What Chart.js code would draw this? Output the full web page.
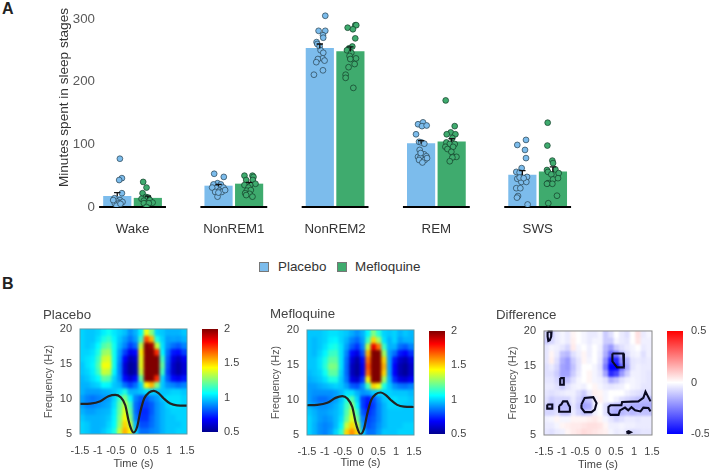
<!DOCTYPE html>
<html>
<head>
<meta charset="utf-8">
<title>Sleep stages and spindle power</title>
<script src="https://cdn.jsdelivr.net/npm/chart.js@4"></script>
<style>
  body { margin: 0; background: #fff; width: 709px; height: 474px; overflow: hidden; position: relative; font-family: "Liberation Sans", Arial, sans-serif; }
  canvas { position: absolute; }
  .letter { position: absolute; left: 2px; font-weight: bold; font-size: 16px; line-height: 16px; color: #222; }
  .key { position: absolute; top: 258px; font-size: 13.4px; line-height: 18px; color: #333; }
  .swatch { position: absolute; top: 262px; width: 8px; height: 8px; border: 0.7px solid #777; }
  .cells { position: absolute; overflow: hidden; }
</style>
</head>
<body>
<div class="letter" style="top:1px">A</div>
<div class="letter" style="top:276px">B</div>
<div class="swatch" style="left:259px;background:#7cbcec"></div>
<div class="key" style="left:278px">Placebo</div>
<div class="swatch" style="left:337px;background:#3fab6e"></div>
<div class="key" style="left:355px">Mefloquine</div>

<script>
// Panel A: minutes per sleep stage
const categories = ['Wake', 'NonREM1', 'NonREM2', 'REM', 'SWS'];
const placeboMeans = [17, 33.5, 253, 101, 51];
const mefloquineMeans = [14, 36.7, 248, 104, 56];
const placeboSem = [6, 2.5, 7, 5, 7];
const mefloquineSem = [3.5, 2.5, 7.5, 5, 8];

// Single subjects, one list per stage
const placeboMinutes = [
  [77, 46, 43, 22, 14, 11, 8.5, 6, 8, 6, 2, 5, 11],
  [53, 48, 38, 36, 36, 30, 31, 31, 26, 24, 24, 27, 16.5, 23],
  [305, 281, 281, 274, 270, 263, 260, 256, 250, 246, 237, 236, 233.5, 231, 218, 211],
  [132, 135, 129, 130, 116, 104, 103, 101, 91, 80, 84, 81, 79, 75, 75, 71, 86, 78],
  [107, 99, 91, 78, 62, 56, 55, 48, 45, 40, 40, 47, 46, 30, 30, 17.5, 15, 4]
];
const placeboJitter = [
  [-.125, -.105, -.132, -.105, -.178, -.125, -.152, -.175, -.099, -.132, -.158, -.119, -.191],
  [-.194, -.099, -.161, -.201, -.128, -.175, -.102, -.214, -.142, -.184, -.119, -.086, -.161, -.152],
  [-.097, -.163, -.097, -.12, -.117, -.183, -.176, -.153, -.143, -.117, -.124, -.17, -.104, -.186, -.12, -.209],
  [-.181, -.132, -.142, -.096, -.201, -.171, -.148, -.119, -.165, -.181, -.122, -.099, -.158, -.171, -.115, -.138, -.155, -.092],
  [-.115, -.201, -.125, -.115, -.158, -.211, -.178, -.105, -.201, -.161, -.112, -.178, -.138, -.211, -.171, -.194, -.204, -.099]
];
const mefloquineMinutes = [
  [40, 31, 22, 16, 13, 15, 10, 11, 7, 6, 6, 6, 0],
  [50, 50, 48, 43, 43, 37, 35, 35, 31, 26, 27, 22, 21, 16.5, 19],
  [286, 290, 290, 283.5, 269, 256, 253, 250, 246, 241, 237, 236, 228, 223, 211, 206, 190],
  [170, 129, 119, 116, 116, 110, 103, 100.5, 100.5, 96, 96, 92.5, 88, 80, 80, 79, 73],
  [134.5, 98, 74, 70, 59, 60, 56, 54, 52, 44, 46, 38, 37, 37, 18, 6]
];
const mefloquineJitter = [
  [.105, .138, .099, .132, .089, .155, .112, .171, .198, .138, .112, .161, .138],
  [.105, .184, .194, .122, .188, .214, .105, .161, .145, .128, .168, .112, .155, .184, .122],
  [.124, .199, .209, .176, .199, .17, .137, .117, .16, .143, .206, .15, .193, .133, .104, .104, .18],
  [.092, .181, .142, .102, .188, .158, .099, .132, .181, .089, .165, .109, .148, .165, .198, .158, .132],
  [.099, .096, .145, .152, .092, .175, .102, .208, .135, .152, .201, .102, .145, .092, .191, .105]
];
const minuteTicks = [0, 100, 200, 300];

// Panel B: time-frequency maps, rows run from 20 Hz down to 5 Hz
const cellTimes = [-1.425, -1.275, -1.125, -.975, -.825, -.675, -.525, -.375, -.225, -.075, .075, .225, .375, .525, .675, .825, .975, 1.125, 1.275, 1.425];
const placeboPower = [
  [1.0, .98, .98, 1.0, 1.04, 1.08, 1.03, 1.0, .97, .9, .95, 1.05, 1.42, 1.25, 1.0, .98, .95, .95, .95, .98],
  [1.0, .98, .98, 1.02, 1.1, 1.14, 1.05, .98, .92, .86, .92, 1.15, 1.7, 1.55, 1.1, 1.0, .92, .93, .92, .95],
  [1.0, .98, 1.0, 1.06, 1.18, 1.22, 1.08, .96, .88, .78, .84, 1.35, 2.0, 1.95, 1.35, 1.02, .9, .85, .82, .88],
  [1.0, 1.0, 1.02, 1.1, 1.28, 1.3, 1.08, .92, .78, .66, .7, 1.45, 2.3, 2.3, 1.75, 1.05, .85, .72, .7, .78],
  [1.0, 1.02, 1.04, 1.15, 1.36, 1.38, 1.08, .9, .68, .56, .6, 1.4, 2.3, 2.3, 2.0, 1.15, .82, .64, .58, .66],
  [.98, 1.02, 1.05, 1.18, 1.42, 1.42, 1.08, .88, .62, .52, .56, 1.4, 2.3, 2.3, 2.1, 1.2, .8, .6, .54, .62],
  [.98, 1.0, 1.04, 1.15, 1.36, 1.34, 1.05, .88, .62, .52, .56, 1.35, 2.3, 2.3, 2.05, 1.15, .78, .6, .54, .62],
  [.96, .98, 1.02, 1.06, 1.2, 1.18, 1.0, .9, .7, .62, .7, 1.2, 2.1, 2.2, 1.75, 1.0, .82, .7, .66, .72],
  [.95, .95, .98, 1.0, 1.06, 1.05, .98, .95, .85, .78, .85, 1.0, 1.45, 1.55, 1.25, .98, .9, .88, .85, .88],
  [.95, .92, .92, .92, .94, .95, .98, 1.02, 1.1, .95, .95, .98, 1.02, 1.0, .98, .98, .98, 1.0, 1.0, .98],
  [.92, .88, .86, .88, .9, .92, 1.0, 1.15, 1.25, 1.05, .88, .82, .82, .88, .92, .98, 1.02, 1.02, 1.02, 1.0],
  [.92, .88, .88, .9, .92, .94, 1.02, 1.2, 1.35, 1.15, .85, .78, .78, .82, .9, .95, 1.0, 1.02, 1.02, 1.0],
  [.95, .92, .92, .94, .95, .96, 1.04, 1.22, 1.4, 1.2, .85, .75, .75, .82, .9, .95, .98, 1.0, 1.0, 1.0],
  [.98, .95, .95, .95, .96, .98, 1.05, 1.25, 1.45, 1.25, .88, .76, .76, .84, .9, .95, .98, .98, 1.0, 1.0],
  [1.0, .98, .95, .95, .96, 1.0, 1.06, 1.28, 1.5, 1.35, .95, .8, .8, .85, .9, .95, .98, .98, .98, 1.0],
  [1.0, .98, .95, .95, .98, 1.02, 1.1, 1.35, 1.55, 1.45, 1.0, .85, .85, .88, .9, .95, .98, .98, 1.0, 1.0]
];
const mefloquinePower = [
  [.98, .98, .98, 1.0, 1.02, 1.02, 1.0, .98, .94, .9, .95, 1.05, 1.25, 1.12, 1.0, .98, 1.0, .95, .98, .96],
  [.98, .96, .98, 1.0, 1.04, 1.05, 1.0, .95, .88, .84, .92, 1.15, 1.5, 1.3, 1.02, .95, 1.0, .92, .95, .95],
  [.98, .96, .98, 1.02, 1.08, 1.1, 1.02, .92, .82, .76, .88, 1.35, 1.85, 1.65, 1.15, .95, .95, .85, .82, .88],
  [.98, .96, 1.0, 1.05, 1.14, 1.15, 1.02, .88, .7, .64, .8, 1.55, 2.2, 2.05, 1.3, .92, .85, .72, .68, .76],
  [.98, .98, 1.02, 1.1, 1.2, 1.2, 1.02, .85, .62, .54, .7, 1.65, 2.3, 2.3, 1.5, .92, .72, .6, .56, .64],
  [.98, .98, 1.02, 1.12, 1.25, 1.24, 1.02, .84, .58, .52, .66, 1.7, 2.3, 2.3, 1.55, .92, .68, .56, .52, .6],
  [.96, .98, 1.0, 1.08, 1.2, 1.2, 1.0, .84, .58, .52, .66, 1.65, 2.3, 2.3, 1.5, .92, .68, .56, .52, .6],
  [.94, .96, .98, 1.02, 1.1, 1.1, .98, .86, .64, .6, .76, 1.45, 2.2, 2.0, 1.3, .95, .75, .64, .62, .68],
  [.92, .92, .94, .96, .98, 1.0, .98, .92, .82, .8, .9, 1.15, 1.5, 1.42, 1.1, .98, .9, .86, .85, .88],
  [.92, .9, .9, .9, .9, .92, .96, 1.02, 1.02, .95, .9, .92, .98, 1.0, 1.0, 1.0, .98, .98, .98, .96],
  [.92, .88, .85, .85, .88, .92, .98, 1.1, 1.18, 1.0, .78, .72, .8, .9, .98, 1.0, 1.02, 1.0, 1.0, .98],
  [.95, .92, .9, .9, .92, .95, 1.0, 1.15, 1.28, 1.05, .78, .7, .78, .88, .95, 1.0, 1.0, 1.0, .98, .98],
  [.98, .95, .92, .92, .94, .96, 1.0, 1.18, 1.35, 1.15, .82, .74, .8, .88, .95, .98, .98, .98, .98, .98],
  [1.0, .96, .92, .9, .92, .96, 1.02, 1.22, 1.4, 1.22, .88, .78, .82, .88, .95, .98, .98, .98, .98, .98],
  [1.0, .95, .9, .88, .9, .96, 1.05, 1.35, 1.5, 1.35, .92, .8, .84, .9, .95, .98, .98, .98, 1.0, 1.0],
  [1.0, .95, .9, .88, .92, 1.0, 1.12, 1.5, 1.6, 1.5, 1.0, .85, .86, .92, .98, .98, .98, 1.0, 1.0, 1.0]
];
const differencePower = [
  [-.08, -.1, -.04, -.02, -.04, .02, 0, -.02, -.04, -.04, -.02, -.1, -.06, 0, -.04, -.06, 0, .06, -.04, -.02],
  [-.1, -.08, -.04, -.02, -.04, .03, 0, -.02, -.04, -.02, -.02, -.1, -.1, -.02, -.04, -.05, 0, .05, -.03, -.03],
  [-.05, -.02, -.03, -.05, -.08, .04, -.02, 0, -.03, 0, -.03, -.14, -.2, -.1, -.06, -.04, -.02, 0, -.04, -.03],
  [-.05, .02, -.04, -.12, -.14, -.06, -.03, .02, -.03, 0, -.04, -.16, -.3, -.26, -.14, -.07, -.03, -.02, -.06, -.03],
  [-.05, .03, -.06, -.16, -.2, -.1, -.05, .02, -.02, 0, -.05, -.22, -.44, -.42, -.22, -.14, -.05, -.04, -.05, -.04],
  [-.06, -.04, -.08, -.18, -.2, -.12, -.05, 0, 0, -.02, -.06, -.26, -.5, -.52, -.3, -.16, -.05, -.03, -.04, -.04],
  [-.06, -.06, -.1, -.18, -.18, -.1, -.04, 0, .02, -.02, -.05, -.18, -.42, -.36, -.2, -.1, -.03, -.03, -.04, -.05],
  [-.05, -.05, -.08, -.14, -.12, -.06, -.02, 0, .02, -.02, -.03, -.06, -.16, -.12, -.06, -.03, -.02, -.03, -.04, -.05],
  [-.04, -.04, -.06, -.1, -.06, -.03, -.02, -.03, 0, .02, -.02, -.04, -.05, -.04, -.03, 0, -.02, -.03, -.05, -.05],
  [-.05, -.06, -.05, -.04, -.03, -.03, -.06, -.1, -.04, .03, .02, -.02, 0, 0, 0, -.03, -.05, -.06, -.08, -.06],
  [-.06, -.1, -.08, -.08, -.08, -.04, -.08, -.14, -.12, -.03, .03, -.02, 0, -.03, -.06, -.08, -.1, -.12, -.14, -.14],
  [-.08, -.14, -.08, -.14, -.14, -.05, -.1, -.18, -.16, -.04, 0, -.06, -.12, -.14, -.14, -.14, -.16, -.16, -.16, -.16],
  [-.08, -.08, -.06, -.12, -.12, -.04, -.08, -.12, -.1, -.03, 0, -.06, -.14, -.16, -.14, -.12, -.14, -.12, -.12, -.12],
  [-.03, -.02, .02, -.02, -.02, .02, .02, .02, .03, .04, .02, -.02, -.05, -.08, -.06, -.04, -.04, -.05, -.04, -.04],
  [-.04, -.04, -.02, .02, .03, .04, .04, .05, .06, .06, .05, .02, -.03, -.03, -.02, -.03, -.03, -.04, -.04, -.04],
  [-.05, -.06, -.04, -.03, .02, .04, .05, .07, .06, .05, .04, .03, -.02, -.04, -.03, -.05, -.07, -.06, -.05, -.05]
];

// Average slow wave drawn over the two power maps
const traceTimes = [-1.5, -1.21, -.93, -.7, -.51, -.37, -.23, -.14, -.07, 0, .1, .19, .3, .43, .57, .71, .85, 1.03, 1.22, 1.5];
const placeboTrace = [9.3, 9.35, 9.68, 10.4, 10.6, 10.3, 9.1, 6.96, 5.76, 5.2, 6.0, 8.15, 10.07, 10.9, 11.15, 10.8, 10.07, 9.35, 9.1, 9.06];
const mefloquineTrace = [9.25, 9.3, 9.6, 10.3, 10.55, 10.2, 9.0, 6.9, 5.7, 5.1, 5.9, 8.05, 10.0, 10.85, 11.07, 10.7, 10.0, 9.3, 9.05, 9.0];

// Significant clusters in the difference map, [time, frequency]
const clusterOutlines = [
  [[-1.4, 19.9], [-1.29, 19.9], [-1.3, 19.2], [-1.34, 18.65], [-1.38, 18.55], [-1.4, 19.2], [-1.4, 19.9]],
  [[-1.05, 13.2], [-.95, 13.2], [-.95, 12.25], [-1.05, 12.25], [-1.05, 13.2]],
  [[-1.41, 9.4], [-1.27, 9.4], [-1.27, 8.8], [-1.41, 8.8], [-1.41, 9.4]],
  [[-1.08, 9.2], [-1.02, 9.4], [-.97, 9.85], [-.86, 9.85], [-.82, 9.4], [-.78, 9.05], [-.78, 8.35], [-1.06, 8.35], [-1.08, 8.75], [-1.08, 9.2]],
  [[-.46, 9.4], [-.37, 10.35], [-.13, 10.45], [-.04, 9.6], [-.09, 8.65], [-.18, 8.3], [-.37, 8.3], [-.46, 8.9], [-.46, 9.4]],
  [[.4, 16.75], [.7, 16.75], [.72, 14.75], [.53, 14.75], [.4, 15.6], [.4, 16.75]],
  [[1.46, 9.85], [1.32, 11.25], [1.26, 10.35], [1.12, 9.85], [.67, 9.75], [.65, 9.3], [.35, 9.3], [.29, 9.05], [.29, 8.25], [.35, 7.9], [.57, 7.9], [.61, 8.55], [.75, 8.95], [.84, 8.55], [.93, 9], [1.03, 8.55], [1.18, 8.4], [1.26, 8.95], [1.4, 8.9], [1.46, 8.4]],
  [[.79, 5.4], [.85, 5.55], [.91, 5.4], [.85, 5.25], [.79, 5.4]]
];
// Small ring left of the axis; out of x order so the line controller keeps it
const strayCluster = [[-1.68, 4.85], [-1.7, 4.85]];

const timeTicks = [-1.5, -1, -.5, 0, .5, 1, 1.5];
const frequencyTicks = [5, 10, 15, 20];
const powerTicks = [.5, 1, 1.5, 2];
const differenceTicks = [-.5, 0, .5];

const jetStops = [[0, '#00008f'], [.125, '#0000ff'], [.375, '#00ffff'], [.625, '#ffff00'], [.875, '#ff0000'], [1, '#800000']];
const redBlueStops = [[0, '#0000ff'], [.5, '#ffffff'], [1, '#ff0000']];

Chart.defaults.font.family = '"Liberation Sans", Arial, sans-serif';
Chart.defaults.animation = false;
Chart.defaults.events = [];
Chart.defaults.plugins.legend.display = false;
Chart.defaults.plugins.tooltip.enabled = false;

function addCanvas(left, top, width, height, parent) {
  const canvas = document.createElement('canvas');
  canvas.width = width;
  canvas.height = height;
  canvas.style.left = left + 'px';
  canvas.style.top = top + 'px';
  (parent || document.body).appendChild(canvas);
  return canvas;
}

function tickList(values) {
  return scale => { scale.ticks = values.map(value => ({ value })); };
}

// Fix an axis thickness and drop the room it would keep for its end labels
function fixedSize(side, size) {
  return scale => {
    scale[side] = size;
    scale.paddingLeft = scale.paddingRight = scale.paddingTop = scale.paddingBottom = 0;
  };
}

// mean + sem markers on top of the bars
const errorBars = {
  id: 'errorBars',
  afterDatasetsDraw(chart) {
    const { ctx, scales } = chart;
    ctx.save();
    ctx.strokeStyle = '#111';
    ctx.lineWidth = 1.3;
    [[0, placeboMeans, placeboSem], [1, mefloquineMeans, mefloquineSem]].forEach(([index, means, sem]) => {
      chart.getDatasetMeta(index).data.forEach((bar, i) => {
        const top = scales.y.getPixelForValue(means[i] + sem[i]);
        const base = scales.y.getPixelForValue(means[i]);
        ctx.beginPath();
        ctx.moveTo(bar.x, base);
        ctx.lineTo(bar.x, top);
        ctx.moveTo(bar.x - 3.2, top);
        ctx.lineTo(bar.x + 3.2, top);
        ctx.stroke();
      });
    });
    ctx.restore();
  }
};

function subjects(minutes, jitter) {
  return minutes.flatMap((list, stage) => list.map((y, i) => ({ x: stage + jitter[stage][i], y })));
}

function stageBars(label, means, shift, color) {
  return {
    label, backgroundColor: color, order: 3, grouped: false, barThickness: 27.5,
    data: means.map((y, stage) => ({ x: stage + shift, y }))
  };
}

new Chart(addCanvas(0, 0, 600, 240), {
  type: 'bar',
  data: {
    datasets: [
      stageBars('Placebo', placeboMeans, -.151, '#7cbcec'),
      stageBars('Mefloquine', mefloquineMeans, .151, '#3fab6e'),
      {
        type: 'line', order: 2, clip: false, borderColor: '#000', borderWidth: 2, pointRadius: 0, spanGaps: false,
        data: categories.flatMap((c, i) => [{ x: i - .33, y: 0 }, { x: i + .33, y: 0 }, { x: i + .5, y: null }])
      },
      {
        type: 'scatter', order: 1, data: subjects(placeboMinutes, placeboJitter),
        backgroundColor: '#7cbcec', borderColor: '#26404f', borderWidth: .7, pointRadius: 2.9
      },
      {
        type: 'scatter', order: 1, data: subjects(mefloquineMinutes, mefloquineJitter),
        backgroundColor: '#3fab6e', borderColor: '#123c28', borderWidth: .7, pointRadius: 2.9
      }
    ]
  },
  options: {
    responsive: false,
    layout: { autoPadding: false, padding: { top: 8, right: 11 } },
    scales: {
      x: {
        type: 'linear', offset: false, min: -.351, max: 4.507,
        grid: { display: false, drawTicks: false, offset: false }, border: { display: false },
        afterBuildTicks: tickList(categories.map((c, i) => i)),
        ticks: { color: '#333', font: { size: 13.3 }, padding: 14, maxRotation: 0, autoSkip: false, callback: v => categories[v] },
        afterFit: fixedSize('height', 33)
      },
      y: {
        min: 0, max: 317.4,
        grid: { display: false, drawTicks: false }, border: { display: false },
        afterBuildTicks: tickList(minuteTicks),
        ticks: { color: '#5a5a5a', font: { size: 13.3 }, padding: 2 },
        title: { display: true, text: 'Minutes spent in sleep stages', align: 'end', color: '#333', font: { size: 13.6 }, padding: { top: 56, bottom: 0 } },
        afterFit: fixedSize('width', 97)
      }
    }
  },
  plugins: [errorBars]
});

function colorFrom(stops, t) {
  t = Math.min(1, Math.max(0, t));
  let i = 1;
  while (i < stops.length - 1 && stops[i][0] < t) i++;
  const [t0, c0] = stops[i - 1];
  const [t1, c1] = stops[i];
  const f = (t - t0) / (t1 - t0);
  const rgb = [1, 3, 5].map(k => {
    const a = parseInt(c0.slice(k, k + 2), 16);
    const b = parseInt(c1.slice(k, k + 2), 16);
    return Math.round(a + (b - a) * f);
  });
  return `rgb(${rgb.join(',')})`;
}

// One floating bar per map cell, on a clipped layer of its own.
// A sharp copy sits under the blurred canvas so its edges don't fade out.
function drawCells(grid, box, stops, range, blur) {
  const holder = document.createElement('div');
  holder.className = 'cells';
  holder.style.cssText = `left:${box.left}px;top:${box.top}px;width:${box.width}px;height:${box.height}px`;
  document.body.appendChild(holder);
  const sharp = addCanvas(0, 0, box.width, box.height, holder);
  const canvas = addCanvas(0, 0, box.width, box.height, holder);
  canvas.style.filter = `blur(${blur}px)`;
  const rowHeight = 15 / grid.length;
  new Chart(canvas, {
    type: 'bar',
    data: {
      datasets: grid.map((row, r) => {
        const high = 20 - r * rowHeight;
        return {
          data: cellTimes.map(x => ({ x, y: [high - rowHeight, high] })),
          backgroundColor: row.map(v => colorFrom(stops, (v - range[0]) / (range[1] - range[0]))),
          grouped: false, barThickness: box.width / cellTimes.length + .5, borderWidth: 0
        };
      })
    },
    options: {
      responsive: false,
      layout: { autoPadding: false },
      scales: {
        x: { type: 'linear', offset: false, display: false, min: -1.5, max: 1.5 },
        y: { display: false, min: 5, max: 20 }
      }
    }
  });
  sharp.getContext('2d').drawImage(canvas, 0, 0);
}

const axisFrame = {
  id: 'axisFrame',
  afterDraw(chart, args, opts) {
    const { ctx, chartArea: a } = chart;
    ctx.save();
    ctx.strokeStyle = opts.color;
    ctx.lineWidth = 1;
    ctx.strokeRect(a.left, a.top, a.width, a.height);
    ctx.restore();
  }
};

// Axes, title and overlaid lines for one map
function drawAxes(box, title, titleGap, leftWidth, titleDrop, frameColor, datasets) {
  const titleHeight = 16 + titleGap;
  const bottomHeight = titleDrop + 7;
  new Chart(addCanvas(box.left - leftWidth, box.top - titleHeight, leftWidth + box.width + 12, titleHeight + box.height + bottomHeight), {
    type: 'line',
    data: { datasets },
    options: {
      responsive: false,
      layout: { autoPadding: false, padding: { right: 12 } },
      plugins: {
        title: { display: true, text: title, align: 'start', color: '#444', font: { size: 13.3, weight: 'normal' }, padding: { top: 0, bottom: titleGap } },
        axisFrame: { color: frameColor }
      },
      scales: {
        x: {
          type: 'linear', min: -1.5, max: 1.5,
          grid: { display: false, drawTicks: false }, border: { display: false },
          afterBuildTicks: tickList(timeTicks),
          ticks: { color: '#444', font: { size: 11 }, padding: 10, maxRotation: 0, autoSkip: false, callback: v => String(v) },
          title: { display: true, text: 'Time (s)', color: '#444', font: { size: 11 }, padding: { top: 0, bottom: 1 } },
          afterFit: fixedSize('height', bottomHeight)
        },
        y: {
          min: 5, max: 20,
          grid: { display: false, drawTicks: false }, border: { display: false },
          afterBuildTicks: tickList(frequencyTicks),
          ticks: { color: '#444', font: { size: 11 }, padding: 8, callback: v => String(v) },
          title: { display: true, text: 'Frequency (Hz)', color: '#555', font: { size: 10.6 }, padding: { top: leftWidth - 37, bottom: 0 } },
          afterFit: fixedSize('width', leftWidth)
        }
      }
    },
    plugins: [axisFrame]
  });
}

// Colour scale beside a map: one tall bar filled with the map's gradient
function drawColorbar(left, top, width, height, stops, ticks, labelGap) {
  const min = ticks[0];
  const max = ticks[ticks.length - 1];
  const total = Math.min(709 - left, width + labelGap + 26);
  new Chart(addCanvas(left, top - 10, total, height + 20), {
    type: 'bar',
    data: {
      labels: [''],
      datasets: [{
        data: [[min, max]], barPercentage: 1, categoryPercentage: 1, borderWidth: 0,
        backgroundColor(context) {
          const area = context.chart.chartArea;
          if (!area) return stops[0][1];
          const fill = context.chart.ctx.createLinearGradient(0, area.bottom, 0, area.top);
          stops.forEach(([t, color]) => fill.addColorStop(t, color));
          return fill;
        }
      }]
    },
    options: {
      responsive: false,
      layout: { autoPadding: false, padding: { top: 10, bottom: 10 } },
      scales: {
        x: { display: false },
        y: {
          position: 'right', min, max,
          grid: { display: false, drawTicks: false }, border: { display: false },
          afterBuildTicks: tickList(ticks),
          ticks: { color: '#444', font: { size: 11 }, padding: labelGap, callback: v => String(v) },
          afterFit: fixedSize('width', total - width)
        }
      }
    }
  });
}

function traceDataset(values) {
  return {
    data: traceTimes.map((x, i) => ({ x, y: values[i] })),
    borderColor: '#222', borderWidth: 2.2, pointRadius: 0, cubicInterpolationMode: 'monotone'
  };
}

const placeboBox = { left: 80, top: 329, width: 107, height: 105 };
const mefloquineBox = { left: 307, top: 330, width: 107, height: 105 };
const differenceBox = { left: 544, top: 331, width: 108, height: 104 };

drawCells(placeboPower, placeboBox, jetStops, [.5, 2], 1.7);
drawAxes(placeboBox, 'Placebo', 6, 37, 31, '#5f9aa6', [traceDataset(placeboTrace)]);
drawColorbar(202, 329, 16, 103, jetStops, powerTicks, 6);

drawCells(mefloquinePower, mefloquineBox, jetStops, [.5, 2], 1.7);
drawAxes(mefloquineBox, 'Mefloquine', 8, 37, 29, '#5f9aa6', [traceDataset(mefloquineTrace)]);
drawColorbar(429, 331, 16, 103, jetStops, powerTicks, 6);

drawCells(differencePower, differenceBox, redBlueStops, [-.5, .5], 1);
drawAxes(differenceBox, 'Difference', 8, 48, 31, '#888', [
  ...clusterOutlines.map(outline => ({
    data: outline.map(([x, y]) => ({ x, y })),
    borderColor: '#0a0a22', borderWidth: 2.1, pointRadius: 0, clip: false
  })),
  {
    data: strayCluster.map(([x, y]) => ({ x, y })),
    showLine: false, clip: false, pointRadius: 2.2, borderWidth: 1, borderColor: '#666', backgroundColor: '#fff'
  }
]);
drawColorbar(667, 331, 16, 103, redBlueStops, differenceTicks, 8);
</script>
</body>
</html>
